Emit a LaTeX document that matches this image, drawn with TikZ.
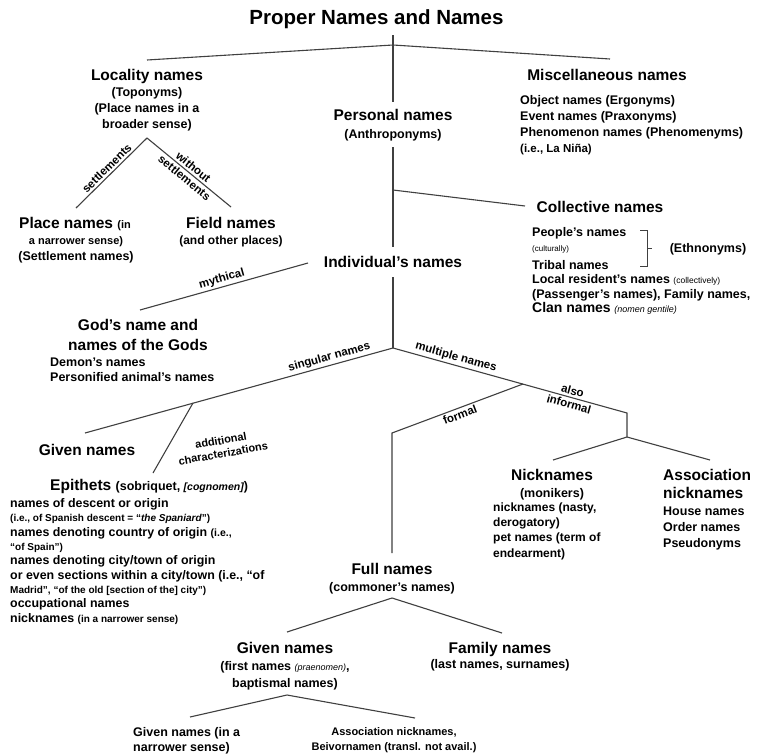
\documentclass[tikz,border=0pt]{standalone}
\usepackage{fontspec}
\setmainfont{Liberation Sans}
\usetikzlibrary{positioning}

\begin{document}
\begin{tikzpicture}[x=1pt, y=-1pt,
    branch/.style={draw=black!75, line width=1.1pt},
    head/.style={font=\fontsize{15.5}{18}\selectfont\bfseries, inner sep=0pt},
    sub/.style={font=\fontsize{12.5}{16}\selectfont\bfseries, inner sep=0pt, align=center},
    list/.style={font=\fontsize{12.5}{16}\selectfont\bfseries, inner sep=0pt, align=left, anchor=north west},
    lbl/.style={font=\fontsize{11.5}{13}\selectfont\bfseries, inner sep=2pt}]
    \fill[white] (0,0) rectangle (765,755);
    \useasboundingbox (0,0) rectangle (765,755);

    \node (title) [anchor=base, inner sep=0pt, font=\fontsize{20.5}{24}\selectfont\bfseries] at (376.5,24.4) {Proper Names and Names};

    \node (loc) [head, anchor=base] at (147,80.6) {Locality names};
    \node (locsub) [sub, below=3.5pt of loc] {(Toponyms)\\(Place names in a\\broader sense)};
    \node (pers) [head, anchor=base] at (393,120.6) {Personal names};
    \node (perssub) [sub, below=7.8pt of pers] {(Anthroponyms)};
    \node (misc) [head, anchor=base] at (607,80.6) {Miscellaneous names};
    \node (misclist) [list] at (520,95.4) {Object names (Ergonyms)\\Event names (Praxonyms)\\Phenomenon names (Phenomenyms)\\{\fontsize{11.5}{16}\selectfont (i.e., La Niña)}};

    \node (place) [head, anchor=base] at (75,228.6) {Place names {\fontsize{11}{16}\selectfont (in}};
    \node (placesub) [sub, anchor=north] at (76,236) {{\fontsize{11}{16}\selectfont a narrower sense)}\\(Settlement names)};
    \node (field) [head, anchor=base] at (231,228.6) {Field names};
    \node (fieldsub) [sub, font=\fontsize{12}{16}\selectfont\bfseries, below=6.8pt of field] {(and other places)};

    \node (coll) [head, anchor=base] at (600,212.6) {Collective names};
    \node (colllist) [list, font=\fontsize{12.5}{14.5}\selectfont\bfseries] at (532,227.4) {People's names\\{\fontsize{8}{14.5}\selectfont\mdseries (culturally)}\\[3.5pt]Tribal names\\Local resident's names {\fontsize{8.5}{14.5}\selectfont\mdseries (collectively)}\\(Passenger's names), Family names,\\{\fontsize{14}{14.5}\selectfont Clan names} {\fontsize{9}{14.5}\selectfont\mdseries\itshape (nomen gentile)}};
    \node (ethno) [sub, anchor=base] at (708,252.5) {(Ethnonyms)};
    \draw[black!75, line width=0.8pt] (640,230) -- (647,230) -- (647,266) -- (640,266) (647,248) -- (652,248);

    \node (indiv) [head, anchor=base] at (393,267.6) {Individual's names};
    \node (god) [head, font=\fontsize{15.5}{20}\selectfont\bfseries, align=center, anchor=north] at (138,319) {God's name and\\names of the Gods};
    \node (godlist) [list, font=\fontsize{12.5}{15}\selectfont\bfseries] at (50,357.4) {Demon's names\\Personified animal's names};

    \node (given) [head, anchor=base] at (87,455.6) {Given names};
    \node (epi) [head, anchor=base west] at (50,490.6) {Epithets {\fontsize{12.5}{16}\selectfont (sobriquet, {\fontsize{10.5}{16}\selectfont\itshape [cognomen]})}};
    \node (epilist) [list, font=\fontsize{12.4}{14.3}\selectfont\bfseries] at (10,498.5) {names of descent or origin\\
        {\fontsize{10}{14.3}\selectfont (i.e., of Spanish descent = “\textit{the Spaniard}”)}\\
        names denoting country of origin {\fontsize{10.5}{14.3}\selectfont (i.e.,}\\
        {\fontsize{10}{14.3}\selectfont “of Spain”)}\\
        names denoting city/town of origin\\
        or even sections within a city/town (i.e., “of\\
        {\fontsize{10}{14.3}\selectfont Madrid”, “of the old [section of the] city”)}\\
        occupational names\\
        nicknames {\fontsize{10}{14.3}\selectfont (in a narrower sense)}};
    \node (addlbl) [lbl, font=\fontsize{11}{13}\selectfont\bfseries, align=center, rotate=10] at (222,447) {additional\\characterizations};

    \node (nick) [head, anchor=base] at (552,480.6) {Nicknames};
    \node (nicksub) [sub, below=6.8pt of nick] {(monikers)};
    \node (nicklist) [list, font=\fontsize{12}{15.3}\selectfont\bfseries] at (493,502.4) {nicknames (nasty,\\derogatory)\\pet names (term of\\endearment)};
    \node (assoc) [head, font=\fontsize{15.5}{18}\selectfont\bfseries, align=left, anchor=north west] at (663,469) {Association\\nicknames};
    \node (assoclist) [list] at (663,506.4) {House names\\Order names\\Pseudonyms};

    \node (full) [head, anchor=base] at (392,574.6) {Full names};
    \node (fullsub) [sub, below=6.8pt of full] {(commoner's names)};
    \node (given2) [head, anchor=base] at (285,653.6) {Given names};
    \node (given2sub) [sub, font=\fontsize{12.5}{17}\selectfont\bfseries, below=6.8pt of given2] {(first names {\fontsize{9}{17}\selectfont\mdseries\itshape (praenomen)},\\baptismal names)};
    \node (fam) [head, anchor=base] at (500,653.6) {Family names};
    \node (famsub) [sub, below=2.5pt of fam] {(last names, surnames)};
    \node (gnnarrow) [list, font=\fontsize{12.5}{15}\selectfont\bfseries] at (133,727.4) {Given names (in a\\narrower sense)};
    \node (beiv) [sub, font=\fontsize{11}{15}\selectfont\bfseries, anchor=north] at (394,727.8) {Association nicknames,\\Beivornamen (transl. not avail.)};

    \coordinate (t0) at (393,35);
    \coordinate (top) at (393,45);
    \coordinate (locIn) at (147,60);
    \coordinate (miscIn) at (610,59);
    \coordinate (persIn) at (393,102);
    \coordinate (persOut) at (393,147);
    \coordinate (collJ) at (393,190);
    \coordinate (collIn) at (525,206);
    \coordinate (indivIn) at (393,247);
    \coordinate (indivOut) at (393,277);
    \coordinate (split) at (393,348);
    \coordinate (mythA) at (308,263);
    \coordinate (mythB) at (140,310);
    \coordinate (locOut) at (147,138);
    \coordinate (placeIn) at (76,208);
    \coordinate (fieldIn) at (231,207);
    \coordinate (singEnd) at (85,433);
    \coordinate (addJ) at (193,403);
    \coordinate (epiIn) at (153,473);
    \coordinate (multEnd) at (627,413);
    \coordinate (formJ) at (523,384);
    \coordinate (formCorner) at (392,433);
    \coordinate (fullIn) at (392,553);
    \coordinate (nickJ) at (627,437);
    \coordinate (nickIn) at (553,460);
    \coordinate (assocIn) at (710,460);
    \coordinate (fullOut) at (392,598);
    \coordinate (givenIn) at (287,632);
    \coordinate (famIn) at (502,633);
    \coordinate (givenOut) at (287,695);
    \coordinate (gnIn) at (190,717);
    \coordinate (beivIn) at (415,718);

    \draw [branch] (t0) -- (persIn);
    \draw [branch] (locIn) -- (top) -- (miscIn);
    \draw [branch] (persOut) -- (indivIn);
    \draw [branch] (collJ) -- (collIn);
    \draw [branch] (indivOut) -- (split);
    \draw [branch] (placeIn) -- node[lbl, sloped, above] {settlements} (locOut);
    \draw [branch] (locOut) -- node[lbl, sloped, align=center, font=\fontsize{11.5}{14}\selectfont\bfseries] {without\\settlements} (fieldIn);
    \draw [branch] (mythB) -- node[lbl, sloped, above] {mythical} (mythA);
    \draw [branch] (singEnd) -- node[lbl, sloped, above, pos=.8] {singular names} (split);
    \draw [branch] (addJ) -- (epiIn);
    \draw [branch] (split) -- node[lbl, sloped, above, pos=.26] {multiple names} node[lbl, sloped, align=center, pos=.76, font=\fontsize{11.5}{14}\selectfont\bfseries] {also\\informal} (multEnd) -- (nickJ);
    \draw [branch] (fullIn) -- (formCorner) -- node[lbl, sloped, below] {formal} (formJ);
    \draw [branch] (nickIn) -- (nickJ) -- (assocIn);
    \draw [branch] (givenIn) -- (fullOut) -- (famIn);
    \draw [branch] (gnIn) -- (givenOut) -- (beivIn);
\end{tikzpicture}
\end{document}
